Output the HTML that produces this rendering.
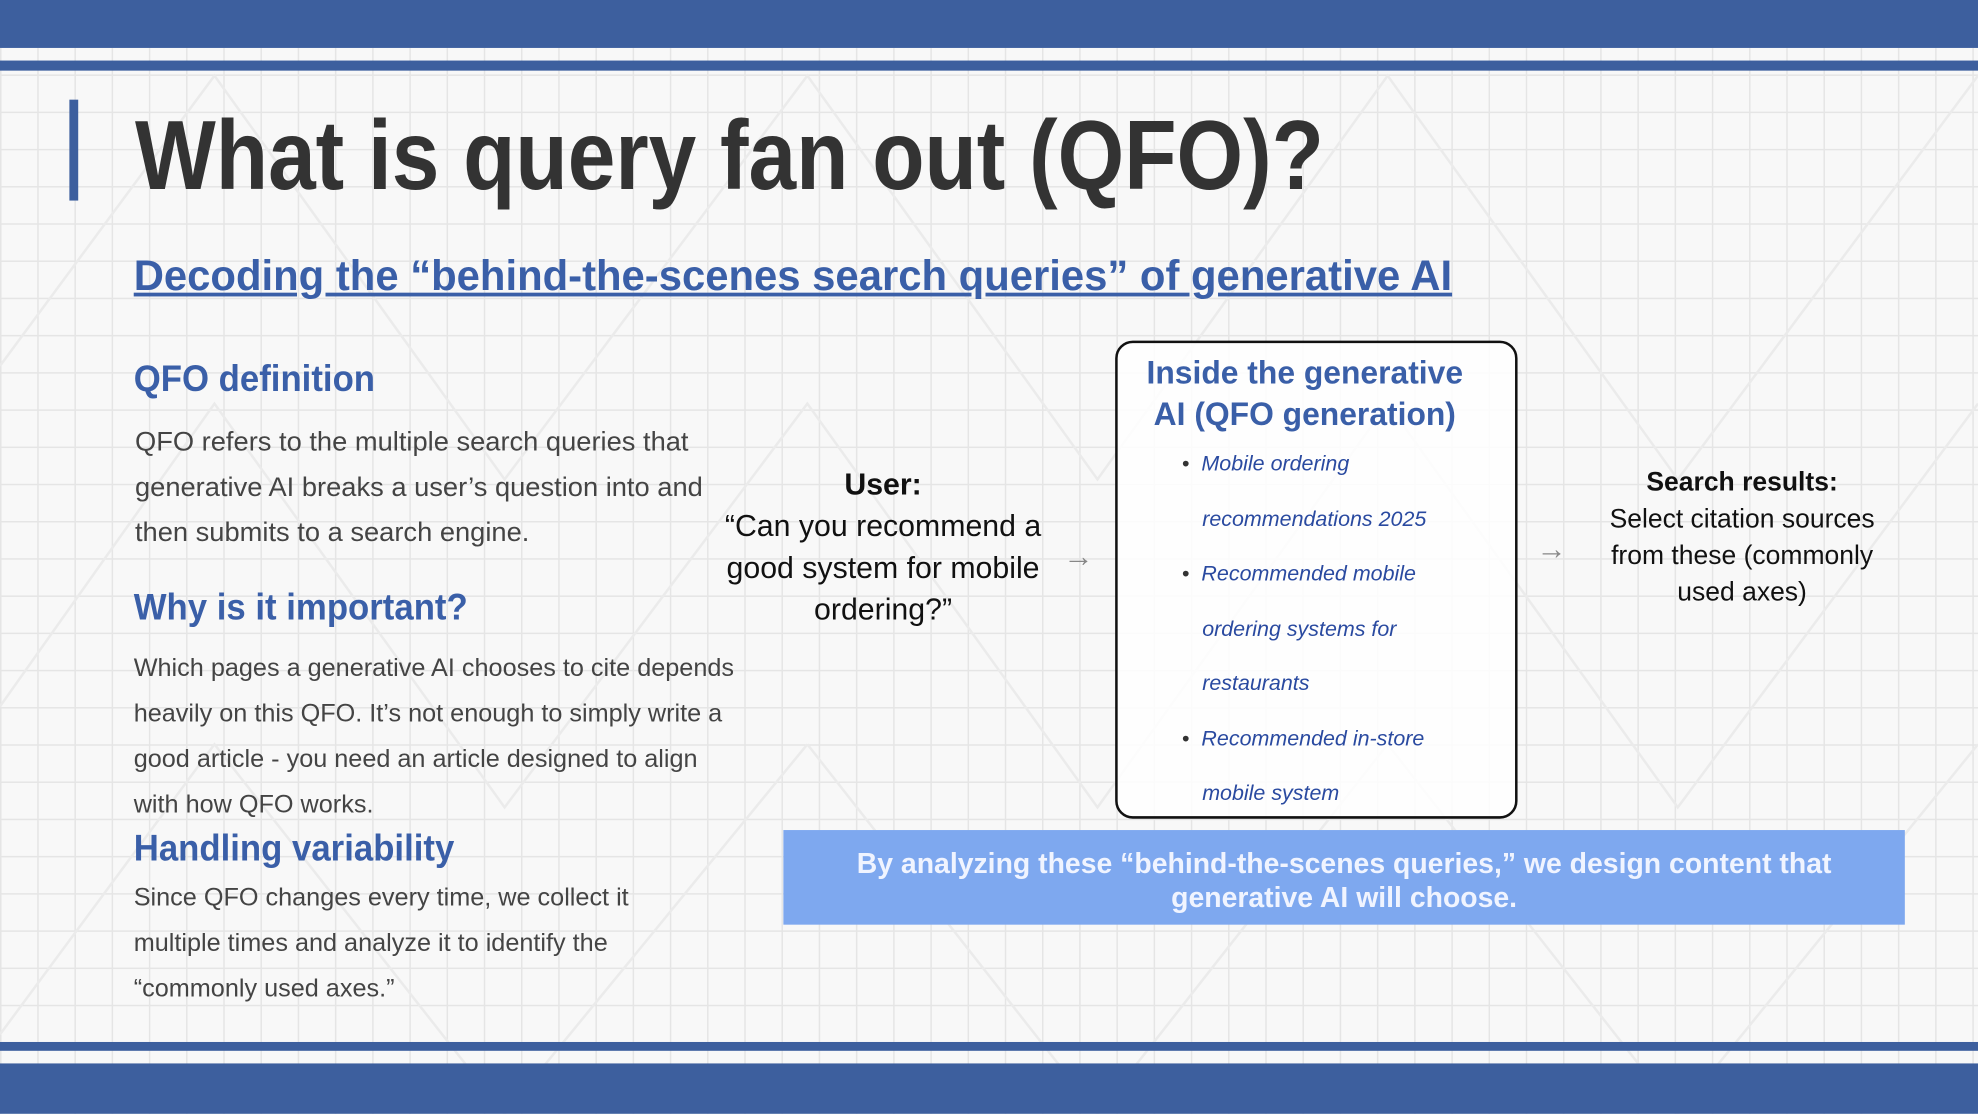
<!DOCTYPE html>
<html><head><meta charset="utf-8"><style>
html,body{margin:0;padding:0;width:1978px;height:1114px;overflow:hidden;background:#f7f7f7}
#w{position:absolute;left:0;top:0;width:1568px;height:883px;transform:scale(1.26148);transform-origin:0 0;
background-color:#f8f8f8;
background-image:linear-gradient(#e5e5e5 1px,transparent 1px),linear-gradient(90deg,#e5e5e5 1px,transparent 1px);
background-size:29.5px 29.5px;font-family:"Liberation Sans",sans-serif;overflow:hidden}
.a{position:absolute;white-space:nowrap}
.c{display:inline-block;transform-origin:0 0}
.blue{color:#3a5fa8}
.body{color:#444;font-size:21px;line-height:36px}
</style></head><body><div id="w">
<svg class="a" style="left:0;top:0" width="1568" height="883">
<g stroke="#ebebeb" stroke-width="2" fill="none">
<path d="M0 290 L170 60 L400 380 L640 60 L870 380 L1100 60 L1330 380 L1568 60"/>
<path d="M0 560 L170 320 L400 640 L640 320 L870 640 L1100 320 L1330 640 L1568 320"/>
<path d="M0 820 L170 590 L400 883 M640 590 L870 883 M1100 590 L1330 883 M400 883 L640 590 M870 883 L1100 590 M1330 883 L1568 590"/>
</g></svg>
<div class="a" style="left:0;top:0;width:1568px;height:38px;background:#3d5f9e"></div>
<div class="a" style="left:0;top:48px;width:1568px;height:8px;background:#3d5f9e"></div>
<div class="a" style="left:0;top:826px;width:1568px;height:7px;background:#3d5f9e"></div>
<div class="a" style="left:0;top:843px;width:1568px;height:40px;background:#3d5f9e"></div>
<div class="a" style="left:55px;top:79px;width:7px;height:80px;background:#3d5f9e"></div>
<div class="a" style="left:107px;top:78px;font-size:78px;font-weight:bold;color:#333;line-height:90px"><span class="c" style="transform:scaleX(0.87)">What is query fan out (QFO)?</span></div>
<div class="a blue" style="left:106px;top:198px;font-size:34px;font-weight:bold;line-height:42px"><span class="c" style="transform:scaleX(0.975);text-decoration:underline">Decoding the “behind-the-scenes search queries” of generative AI</span></div>
<div class="a blue" style="left:106px;top:285px;font-size:29px;font-weight:bold"><span class="c" style="transform:scaleX(0.95)">QFO definition</span></div>
<div class="a body" style="left:107px;top:333px"><span class="c" style="transform:scaleX(1.03)">QFO refers to the multiple search queries that<br>generative AI breaks a user’s question into and<br>then submits to a search engine.</span></div>
<div class="a blue" style="left:106px;top:466px;font-size:29px;font-weight:bold"><span class="c" style="transform:scaleX(0.95)">Why is it important?</span></div>
<div class="a body" style="left:106px;top:512px;font-size:20px"><span class="c" style="transform:scaleX(1.0)">Which pages a generative AI chooses to cite depends<br>heavily on this QFO. It’s not enough to simply write a<br>good article - you need an article designed to align<br>with how QFO works.</span></div>
<div class="a blue" style="left:106px;top:657px;font-size:29px;font-weight:bold"><span class="c" style="transform:scaleX(0.95)">Handling variability</span></div>
<div class="a body" style="left:106px;top:694px;font-size:20px"><span class="c" style="transform:scaleX(1.0)">Since QFO changes every time, we collect it<br>multiple times and analyze it to identify the<br>“commonly used axes.”</span></div>
<div class="a" style="left:560px;top:368px;width:280px;text-align:center;font-size:24px;line-height:33px;color:#111"><b>User:</b><br>“Can you recommend a<br>good system for mobile<br>ordering?”</div>
<div class="a" style="left:843px;top:428px;font-size:24px;color:#888">→</div>
<div class="a" style="left:884px;top:270px;width:315px;height:375px;border:2px solid #111;border-radius:14px;background:rgba(255,255,255,0.85)"></div>
<div class="a blue" style="left:886px;top:279px;width:297px;text-align:center;font-size:26px;font-weight:bold;line-height:33px"><span class="c" style="transform:scaleX(0.97);transform-origin:50% 0">Inside the generative<br>AI (QFO generation)</span></div>
<div class="a" style="left:937px;top:346px;font-size:17px;line-height:43.5px;color:#2a4aa0;font-style:italic">
<div><span style="font-style:normal;color:#333">•</span>&nbsp; Mobile ordering</div>
<div style="padding-left:16px">recommendations 2025</div>
<div><span style="font-style:normal;color:#333">•</span>&nbsp; Recommended mobile</div>
<div style="padding-left:16px">ordering systems for</div>
<div style="padding-left:16px">restaurants</div>
<div><span style="font-style:normal;color:#333">•</span>&nbsp; Recommended in-store</div>
<div style="padding-left:16px">mobile system</div></div>
<div class="a" style="left:1218px;top:422px;font-size:24px;color:#888">→</div>
<div class="a" style="left:1255px;top:368px;width:252px;text-align:center;font-size:21px;line-height:29px;color:#111"><span class="c" style="transform:scaleX(1.0);transform-origin:50% 0"><b>Search results:</b><br>Select citation sources<br>from these (commonly<br>used axes)</span></div>
<div class="a" style="left:621px;top:658px;width:889px;height:75px;background:#7ea8ef"></div>
<div class="a" style="left:621px;top:671px;width:889px;text-align:center;font-size:22.5px;font-weight:bold;line-height:27px;color:#f0f4ff">By analyzing these “behind-the-scenes queries,” we design content that<br>generative AI will choose.</div>
</div></body></html>
